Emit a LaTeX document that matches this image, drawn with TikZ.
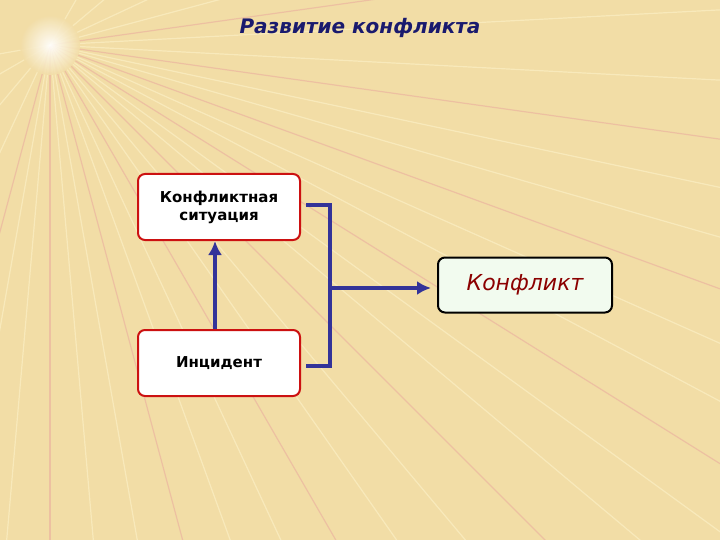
\documentclass[tikz,border=0pt]{standalone}
\usepackage{fontspec}
\setmainfont{DejaVu Sans}
\usetikzlibrary{arrows.meta}
\definecolor{bg}{HTML}{F2DDA6}
\definecolor{ray}{HTML}{FBEFC4}
\definecolor{rayr}{HTML}{EBB5A0}
\definecolor{ttl}{HTML}{1A1A6E}
\definecolor{blu}{HTML}{333399}
\definecolor{redb}{HTML}{CC1111}
\definecolor{dred}{HTML}{8B0000}
\definecolor{grn}{HTML}{F2FBEF}
\begin{document}
\begin{tikzpicture}[x=1pt,y=-1pt,
  box/.style={draw=redb,line width=2pt,fill=white,rounded corners=7pt,minimum width=162pt,minimum height=66pt,align=center,font=\bfseries\fontsize{15}{18}\selectfont},
  conn/.style={draw=blu,line width=4pt},
  arr/.style={conn,-{Latex[length=14pt,width=14pt]}}]
\fill[bg] (0,0) rectangle (720,540);
\useasboundingbox (0,0) rectangle (720,540);
\foreach \a/\c in {3/ray,8/rayr,12/ray,16/ray,20/rayr,24/ray,28/ray,32/rayr,36/ray,40/ray,45/rayr,50/ray,55/ray,60/rayr,65/ray,70/ray,75/rayr,80/ray,85/ray,90/rayr,95/ray,100/ray,-3/ray,-8/rayr,-15/ray,-25/ray,-40/ray,-60/ray,105/rayr,115/ray,130/ray,150/ray,170/ray}
  \draw[\c,line width=1.2pt,opacity=0.7] (50,45) -- ++(\a:900);
\shade[inner color=white,outer color=bg,opacity=0.9] (50,45) circle (30);
\node[font=\bfseries\itshape\fontsize{20}{24}\selectfont,text=ttl] (t) at (360,28) {Развитие конфликта};
\node[box] (s) at (219,207) {Конфликтная\\ситуация};
\node[box] (i) at (219,363) {Инцидент};
\node[draw=black,line width=2pt,fill=grn,rounded corners=7pt,minimum width=174pt,minimum height=55pt,font=\itshape\fontsize{22}{26}\selectfont,text=dred] (k) at (525,285) {Конфликт};
\draw[arr] (i.north -| 215,0) -- (s.south -| 215,0);
\coordinate (b1) at (330,205);
\coordinate (b2) at (330,366);
\coordinate (bm) at (330,288);
\draw[conn] ([xshift=5pt]s.east |- b1) -- (b1) -- (b2) -- ([xshift=5pt]i.east |- b2);
\draw[arr] (bm) -- ([xshift=-6pt]k.west |- bm);
\end{tikzpicture}
\end{document}
